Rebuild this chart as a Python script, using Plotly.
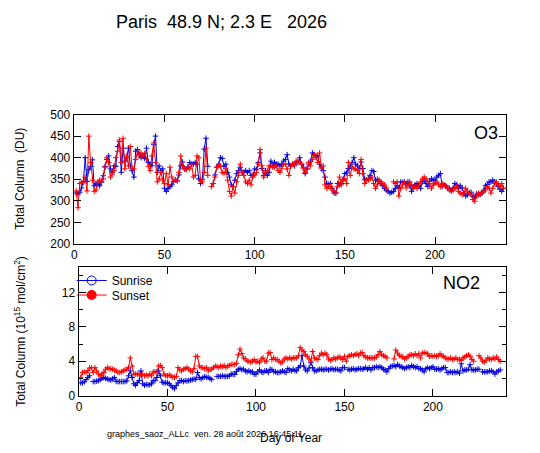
import plotly.graph_objects as go

o3_sunrise = [
    318, 316, 320, 330, 345, 400, 345, 372, 380, 395,
    335, 340, 338, 335, 343, 358, 380, 396, 404, 374,
    366, 381, 380, 426, 437, 366, 422, 392, 400, 422,
    381, 370, 355, 415, 419, 407, 400, 404, 398, 422,
    389, 385, 381, 430, 450, 366, 381, 370, 374, 329,
    322, 329, 333, 337, 345, 348, 346, 360, 381, 390,
    374, 374, 378, 389, 385, 385, 389, 385, 351, 340,
    350, 420, 445, 380, None, None, 340, 360, 378, 385,
    400, 398, 380, 385, 366, 355, 337, 333, 348, 363,
    370, 378, 366, 366, 370, 366, 370, 359, 359, 374,
    372, 389, 411, 375, 359, 370, 359, 366, 392, 381,
    389, 385, 385, 381, 385, 392, 396, 407, 385, 381,
    385, 381, 389, 389, 400, 385, 378, 363, 374, 385,
    392, 411, 407, 404, 404, 385, 378, 370, 355, 340,
    338, 340, 329, 318, 318, 340, 337, 340, 350, 363,
    365, 375, 381, 389, 400, 385, 381, 374, 390, 375,
    350, 348, 351, 359, 370, 368, 348, 350, 345, 340,
    335, 329, 325, 322, 318, 320, 322, 329, 335, 330,
    344, 342, 344, 340, 344, 335, 322, 333, 337, 340,
    335, 329, 344, 348, 340, 333, 345, 351, 348, 348,
    355, 359, 363, 333, 337, 335, 329, 329, 325, 329,
    340, 337, 329, 335, 330, 318, 311, 314, 318, 320,
    311, 307, 316, 314, 316, 318, 325, 335, 338, 344,
    344, 348, 344, 340, 333, 327, 322, 329,
]
o3_sunset = [
    323, 284, 340, 342, 342, 355, 323, 450, 389, 348,
    322, 325, 344, 348, 344, 351, 378, 400, 389, 355,
    362, 370, 400, 415, 441, 389, 445, 374, 404, 381,
    426, 374, 374, 396, 415, 404, 411, 404, 410, 396,
    380, 370, 404, 434, 389, 344, 351, 366, 348, 340,
    363, 337, 378, 355, 344, 348, 348, 366, 404, 381,
    374, 372, 378, 374, 385, 355, 359, 404, 400, 348,
    344, 366, 422, 359, None, 333, 340, 355, 378, 381,
    381, 366, 363, 374, 348, 322, 311, 333, 318, 344,
    359, 385, 366, 359, 344, 340, 348, 337, 355, 360,
    366, 385, 419, 381, 355, 366, 370, 381, 381, 378,
    378, 381, 370, 366, 374, 385, 385, 374, 359, 381,
    385, 385, 392, 392, 389, 385, 374, 366, 374, 389,
    381, 396, 407, 400, 389, 411, 374, 381, 337, 329,
    333, 333, 325, 322, 318, 333, 355, 337, 348, 351,
    340, 389, 359, 378, 374, 374, 370, 363, 396, 363,
    340, 348, 348, 351, 355, 340, 329, 337, 348, 344,
    340, 337, 330, None, None, None, 344, 340, 344, 311,
    329, 337, 344, 330, 337, 344, 337, 329, 333, 329,
    337, 344, 351, 355, 351, 344, 340, 329, 337, 340,
    344, 337, 333, 340, 337, 333, 329, 325, 322, 325,
    329, 333, 322, 318, 314, 318, 329, 322, 318, 314,
    303, 299, 311, 318, 314, 318, 322, 325, 333, 329,
    318, 329, 340, 344, 337, 333, 340, 329,
]
no2_sunrise = [
    1.48, 1.48, 1.60, 1.86, 2.10, 2.30, None, 1.63, 1.63, 1.68,
    1.74, 1.86, 2.00, 2.10, 2.00, 1.93, 1.86, 1.80, 1.95, 2.10,
    1.65, 1.63, 1.63, 1.63, 1.63, 1.63, 1.70, 2.30, 2.87, 2.10,
    1.37, 1.18, 1.50, 1.74, 2.87, 1.37, 1.20, 1.30, 1.26, 1.26,
    1.37, 1.74, 1.74, 2.10, 2.87, 2.30, 1.56, 1.48, 1.48, 1.48,
    1.37, 1.15, 0.95, 0.80, 1.18, 1.48, 1.74, 1.74, 1.63, 1.74,
    1.70, 1.74, 1.80, 1.86, 1.93, 1.86, 2.68, 2.10, 1.93, 2.10,
    2.20, 2.12, 2.12, 2.00, 1.86, None, None, 2.23, 2.23, 2.23,
    2.30, 2.23, 2.23, 2.23, 2.30, 2.50, 2.50, 2.45, 2.80, 3.06,
    3.13, 3.00, 3.06, 2.87, 2.76, 2.87, 2.76, 2.76, 2.50, 2.50,
    2.76, 2.98, 2.76, 2.68, 2.87, 2.87, 2.68, 3.06, 3.00, 2.80,
    2.76, 2.68, 2.68, 2.76, 2.87, 2.76, 2.68, 3.13, 2.98, 2.87,
    3.06, 2.90, 2.87, 3.25, 3.44, 4.64, 3.44, 2.98, 2.87, 3.20,
    3.81, 3.25, 2.87, 2.87, 2.98, 3.06, 3.06, 2.98, 3.06, 3.06,
    2.98, 3.06, 3.13, 3.00, 3.06, 3.06, 2.98, 2.87, 3.25, 3.25,
    None, 3.06, 2.98, 3.06, 3.13, 2.98, 3.06, 3.13, 3.13, 3.06,
    3.13, 3.25, 3.06, 3.25, 2.98, 3.25, 3.25, 3.36, 3.25, 3.36,
    3.25, 3.06, 2.98, 2.76, 3.13, 3.36, 3.44, 3.50, 3.36, 3.62,
    3.44, 3.36, 3.25, 3.13, 3.25, 3.36, 3.25, 3.50, 3.36, 3.25,
    3.36, 3.13, 3.13, 2.98, 2.76, 3.13, 3.25, 3.13, 3.25, 3.36,
    3.06, 3.06, 3.13, 2.98, 3.13, 3.25, 3.25, 2.68, 2.68, 2.76,
    2.68, 2.76, 2.68, 2.76, 2.60, 3.70, 2.87, 2.98, 2.98, 3.06,
    3.60, 2.98, 2.98, 2.98, 3.06, 3.06, None, 2.76, 2.76, 2.76,
    2.76, 2.87, 2.87, 2.76, 2.50, 2.76, 2.87, 2.98,
]
no2_sunset = [
    2.12, 2.68, 2.75, 2.68, 2.87, 3.20, 3.25, 2.68, 3.25, 2.87,
    2.50, 2.30, 2.50, 2.68, 3.06, 3.25, 3.13, 3.13, 3.06, 2.98,
    2.87, 2.68, 2.68, 2.76, 2.87, 2.98, 3.06, 3.25, 4.38, 3.44,
    2.50, 2.50, 2.50, 2.50, 2.40, 2.50, 2.30, 2.40, 2.30, 2.50,
    2.30, 2.76, 2.76, 2.76, 3.44, 3.50, 3.25, 2.50, 2.30, 2.30,
    2.40, 2.30, 2.12, 2.12, 2.23, 3.25, 2.98, 2.87, 3.06, 3.13,
    3.25, 3.06, 2.87, 2.76, 3.13, 4.56, 4.56, 3.44, 3.25, 3.25,
    3.13, 3.25, 2.87, 3.06, 3.06, 3.25, 3.44, 3.36, 3.25, 3.44,
    3.36, 3.50, 3.25, 3.44, 3.50, 3.62, 3.62, 3.62, 3.74, 4.75,
    5.40, 4.90, 4.38, 4.26, 4.00, 4.00, 3.90, 4.00, 4.19, 3.90,
    4.00, 3.81, 4.26, 4.38, 4.00, 4.00, 4.94, 5.00, 4.19, 4.38,
    4.19, 4.19, 4.00, 3.81, 3.90, 4.26, 4.38, 4.26, 4.38, 4.26,
    4.38, 4.38, 4.38, 4.64, 5.60, 5.30, 5.13, 4.75, 4.56, 4.26,
    4.00, 5.13, 4.38, 4.26, 4.19, 4.64, 4.94, 4.75, 4.94, 4.75,
    4.26, 4.11, 4.19, 4.38, 4.26, 4.38, 4.49, 4.38, 4.19, 4.56,
    4.00, 4.56, 4.64, 4.75, 4.64, 4.75, 4.86, 4.64, 4.94, 5.00,
    4.64, 4.49, 4.38, 4.38, 4.38, 4.38, 4.38, 4.49, 4.75, 5.13,
    4.75, 4.64, 4.56, 4.38, None, None, None, 4.26, 5.30, 4.94,
    4.64, 4.56, 4.50, 4.26, 4.38, 4.56, 4.75, 4.75, 4.64, 4.86,
    4.64, 4.86, 4.38, 4.94, 5.00, 4.94, 4.86, 4.56, 4.64, 4.56,
    4.64, 4.56, 4.64, 4.86, 4.64, 4.56, 4.38, 4.26, 4.26, 4.38,
    4.19, 4.26, 4.38, 4.19, 4.19, 4.11, 4.38, 4.49, 4.64, 4.75,
    4.56, 4.19, 4.00, None, None, 4.64, 4.38, 4.00, 3.90, 4.11,
    4.38, 4.26, 4.19, 4.38, 4.26, 4.49, 4.19, 4.00,
]

o3_ticks = [200, 250, 300, 350, 400, 450, 500]
no2_ticks = [0, 4, 8, 12]
day_ticks = [0, 50, 100, 150, 200]

BLUE = '#0000dd'
RED = '#ff0000'
FONT = 'Arial, Liberation Sans, sans-serif'
W, H = 540, 453
OFF = 8  # the page body margin pushes the figure 8px right and down


def fx(px):
    return (px - OFF) / W


def fy(py):
    return 1 - (py - OFF) / H


def days(vals):
    return list(range(1, len(vals) + 1))


def series(vals, color, xa, ya):
    return go.Scatter(
        x=days(vals), y=vals, xaxis=xa, yaxis=ya,
        mode='lines+markers',
        line=dict(color=color, width=1),
        marker=dict(symbol='cross-thin', size=4, line=dict(color=color, width=1)),
        showlegend=False, hoverinfo='skip',
    )


fig = go.Figure()
fig.add_trace(series(o3_sunrise, BLUE, 'x', 'y'))
fig.add_trace(series(o3_sunset, RED, 'x', 'y'))
fig.add_trace(series(no2_sunrise, BLUE, 'x2', 'y2'))
fig.add_trace(series(no2_sunset, RED, 'x2', 'y2'))

# legend entries only
fig.add_trace(go.Scatter(
    x=[None], y=[None], xaxis='x2', yaxis='y2', name='Sunrise', legend='legend',
    mode='lines+markers', line=dict(color=BLUE, width=1),
    marker=dict(symbol='circle-open', size=9, color=BLUE, line=dict(width=1)),
))
fig.add_trace(go.Scatter(
    x=[None], y=[None], xaxis='x2', yaxis='y2', name='Sunset', legend='legend2',
    mode='lines+markers', line=dict(color=RED, width=1),
    marker=dict(symbol='circle', size=10, color=RED),
))

axis_common = dict(
    showline=True, linecolor='black', linewidth=1, mirror='ticks',
    ticks='inside', ticklen=7, tickcolor='black', tickwidth=1,
    showgrid=False, zeroline=False,
    tickfont=dict(family=FONT, size=12, color='black'),
)
legend_common = dict(xanchor='left', yanchor='top', bgcolor='rgba(0,0,0,0)',
                     font=dict(size=12), borderwidth=0)


def note(text, x, y, size, xanchor='center', angle=0):
    return dict(text=text, x=fx(x), y=fy(y), xref='paper', yref='paper',
                xanchor=xanchor, yanchor='middle', showarrow=False,
                textangle=angle, font=dict(size=size))


fig.update_layout(
    width=W, height=H,
    margin=dict(l=0, r=0, t=0, b=0),
    paper_bgcolor='white', plot_bgcolor='white',
    font=dict(family=FONT, size=12, color='black'),
    xaxis=dict(domain=[fx(71), fx(506)], range=[-0.4, 239.5],
               tickvals=day_ticks, anchor='y', **axis_common),
    yaxis=dict(domain=[fy(244.3), fy(110.7)], range=[200, 500],
               tickvals=o3_ticks, anchor='x', **axis_common),
    xaxis2=dict(domain=[fx(76), fx(506)], range=[-0.2, 241.4],
                tickvals=day_ticks, anchor='y2', **axis_common),
    yaxis2=dict(domain=[fy(400.7), fy(267.7)], range=[0, 15],
                tickvals=no2_ticks, anchor='x2',
                minor=dict(dtick=2, tick0=0, ticks='inside', ticklen=4,
                           tickcolor='black'),
                **axis_common),
    legend=dict(x=fx(69), y=fy(267), **legend_common),
    legend2=dict(x=fx(69), y=fy(282), **legend_common),
    annotations=[
        note('Paris\u00a0\u00a048.9 N; 2.3 E\u00a0\u00a0\u00a02026', 220, 15, 18),
        note('O3', 500, 130, 18, xanchor='right'),
        note('NO2', 482, 285, 18, xanchor='right'),
        note('Total Column\u00a0\u00a0(DU)', 17, 177, 12, angle=-90),
        note('Total Column (10<sup>15</sup> mol/cm<sup>2</sup>)', 17, 334, 12, angle=-90),
        note('graphes_saoz_ALLc\u00a0\u00a0ven. 28 août 2026 16:45:11', 103, 440, 9,
             xanchor='left'),
        note('Day of Year', 290, 445, 12),
    ],
)

fig.write_html('out.html')
